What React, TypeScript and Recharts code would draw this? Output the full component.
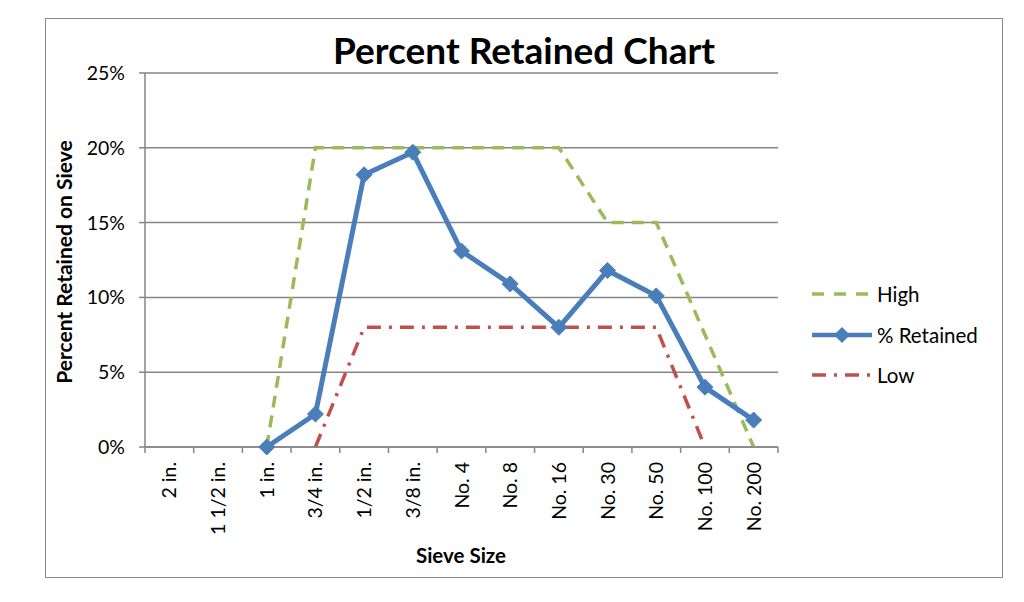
import React from 'react';
import { LineChart, Line, XAxis, YAxis, CartesianGrid } from 'recharts';

const sieves = ['2 in.', '1 1/2 in.', '1 in.', '3/4 in.', '1/2 in.', '3/8 in.', 'No. 4', 'No. 8', 'No. 16', 'No. 30', 'No. 50', 'No. 100', 'No. 200'];
const retained = [null, null, 0, 2.2, 18.2, 19.7, 13.1, 10.9, 8.0, 11.8, 10.1, 4.0, 1.8];
const high = [null, null, 0, 20, 20, 20, 20, 20, 20, 15, 15, 7.5, 0];
const low = [null, null, null, 0, 8, 8, 8, 8, 8, 8, 8, 0, null];
const yTicks = [0, 5, 10, 15, 20, 25];
const seriesNames = ['High', '% Retained', 'Low'];

const data = sieves.map((s, i) => ({ sieve: s, high: high[i], retained: retained[i], low: low[i] }));

const W = 1024;
const H = 602;
const M = { top: 73, right: 246, bottom: 55, left: 65 };
const Y_W = 80;
const X_H = 100;
const PLOT_W = W - M.left - Y_W - M.right;
const BAND = PLOT_W / sieves.length;

const FONT = 'Lato, "Open Sans", sans-serif';
const AXIS = '#868686';
const GREEN = '#9BBB59';
const BLUE = '#4A7EBB';
const RED = '#C0504D';

const XTick = (props: any) => {
  const { x, y, payload, index } = props;
  const ay = y - 6;
  return (
    <g>
      <line x1={x - BAND / 2} y1={ay} x2={x - BAND / 2} y2={ay + 6} stroke={AXIS} strokeWidth={1.5} />
      {index === sieves.length - 1 && (
        <line x1={x + BAND / 2} y1={ay} x2={x + BAND / 2} y2={ay + 6} stroke={AXIS} strokeWidth={1.5} />
      )}
      <text
        x={x}
        y={ay + 15}
        transform={`rotate(-90, ${x}, ${ay + 15})`}
        textAnchor="end"
        dy="0.36em"
        fontSize={19.5}
        fontFamily={FONT}
        fill="#000"
      >
        {payload.value}
      </text>
    </g>
  );
};

const Diamond = (props: any) => {
  const { cx, cy } = props;
  if (cx == null || cy == null || props.value == null) return null;
  const r = 8;
  return <polygon points={`${cx},${cy - r} ${cx + r},${cy} ${cx},${cy + r} ${cx - r},${cy}`} fill={BLUE} stroke={BLUE} />;
};

const LegendBox = () => (
  <div style={{ position: 'absolute', left: 810, top: 274 }}>
    {seriesNames.map((n, i) => (
      <div key={n} style={{ display: 'flex', alignItems: 'center', height: 40.5 }}>
        <svg width={64} height={20}>
          {i === 0 && <line x1={2} y1={10} x2={62} y2={10} stroke={GREEN} strokeWidth={3.5} strokeDasharray="12 10" />}
          {i === 1 && (
            <>
              <line x1={2} y1={10} x2={62} y2={10} stroke={BLUE} strokeWidth={4.5} />
              <polygon points="32,2 40,10 32,18 24,10" fill={BLUE} />
            </>
          )}
          {i === 2 && <line x1={2} y1={10} x2={62} y2={10} stroke={RED} strokeWidth={3.5} strokeDasharray="14 8 3 8" />}
        </svg>
        <span style={{ fontFamily: FONT, fontSize: 20.5, marginLeft: 3, color: '#000' }}>{n}</span>
      </div>
    ))}
  </div>
);

export default function App() {
  return (
    <div style={{ position: 'absolute', left: 0, top: 0, width: W, height: H, background: '#fff', overflow: 'hidden' }}>
      <div style={{ position: 'absolute', left: 45, top: 18, width: 956, height: 558, border: '1.5px solid #8a8a8a' }} />
      <div style={{ position: 'absolute', left: 0, top: 27, width: 1048, textAlign: 'center', fontFamily: FONT, fontWeight: 700, fontSize: 37, color: '#000' }}>
        Percent Retained Chart
      </div>
      <div style={{ position: 'absolute', left: 0, top: 0 }}>
        <LineChart width={W} height={H} data={data} margin={M}>
          <CartesianGrid vertical={false} stroke={AXIS} strokeWidth={1.5} />
          <XAxis
            dataKey="sieve"
            interval={0}
            height={X_H}
            padding={{ left: BAND / 2, right: BAND / 2 }}
            tickLine={false}
            tickSize={6}
            tickMargin={0}
            axisLine={{ stroke: AXIS, strokeWidth: 1.5 }}
            tick={<XTick />}
          />
          <YAxis
            width={Y_W}
            domain={[0, 25]}
            ticks={yTicks}
            tickFormatter={(v: number) => `${v}%`}
            axisLine={{ stroke: AXIS, strokeWidth: 1.5 }}
            tickLine={{ stroke: AXIS, strokeWidth: 1.5 }}
            tickSize={6}
            tickMargin={14}
            tick={{ fontSize: 19.5, fontFamily: FONT, fill: '#000' }}
          />
          <Line dataKey="high" stroke={GREEN} strokeWidth={3.5} strokeDasharray="12 8" dot={false} isAnimationActive={false} />
          <Line dataKey="low" stroke={RED} strokeWidth={3.5} strokeDasharray="14 8 3 8" dot={false} isAnimationActive={false} />
          <Line dataKey="retained" stroke={BLUE} strokeWidth={5} dot={<Diamond />} isAnimationActive={false} />
        </LineChart>
      </div>
      <div
        style={{
          position: 'absolute',
          left: 63,
          top: 262,
          transform: 'translate(-50%, -50%) rotate(-90deg)',
          whiteSpace: 'nowrap',
          fontFamily: FONT,
          fontWeight: 700,
          fontSize: 21,
          color: '#000',
        }}
      >
        Percent Retained on Sieve
      </div>
      <div style={{ position: 'absolute', left: 461, top: 555, transform: 'translate(-50%, -50%)', fontFamily: FONT, fontWeight: 700, fontSize: 20.5, color: '#000', whiteSpace: 'nowrap' }}>
        Sieve Size
      </div>
      <LegendBox />
    </div>
  );
}
